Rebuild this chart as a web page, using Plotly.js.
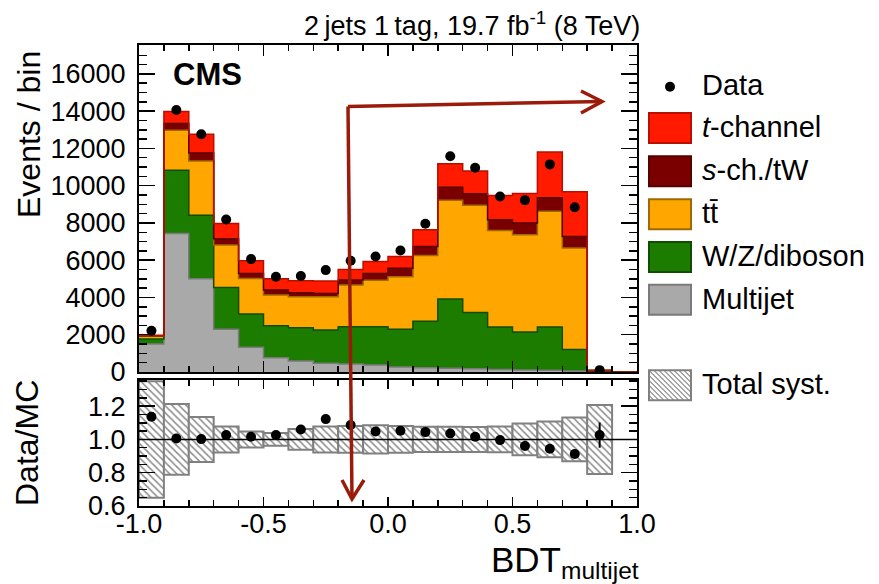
<!DOCTYPE html>
<html><head><meta charset="utf-8">
<script src="https://cdn.plot.ly/plotly-3.0.1.min.js"></script>
<style>html,body{margin:0;padding:0;background:#fff}#chart{width:879px;height:584px}</style>
</head><body><div id="chart"></div>
<script>
// ---- data ----
const binEdges = [-1.0,-0.9,-0.8,-0.7,-0.6,-0.5,-0.4,-0.3,-0.2,-0.1,0.0,0.1,0.2,0.3,0.4,0.5,0.6,0.7,0.8,0.9,1.0];
const multijet  = [1500,7436,5003,2288,1323,768,590,465,429,375,270,230,200,170,140,110,90,60,10,0];
const wzDiboson = [270,3395,3415,2252,1787,1715,1786,1787,2001,2055,2020,2494,3714,3020,2278,2035,2328,1152,20,0];
const ttbar     = [150,2145,2913,2270,1913,1646,1663,1787,2235,2500,2825,3528,5309,5760,5180,5223,6210,5437,45,0];
const sChTW     = [20,358,429,340,268,268,213,179,268,360,451,482,697,610,579,627,718,628,5,0];
const tChannel  = [30,644,1002,820,677,606,644,662,574,640,634,902,1260,1223,1293,1582,2467,2391,15,0];
const dataCounts = [2215,14066,12762,8187,6059,5111,5148,5469,5968,6200,6520,7957,11576,10966,9415,9223,11142,8842,100,null];
const ratio     = [1.136,1.006,1.002,1.026,1.016,1.026,1.06,1.122,1.086,1.048,1.052,1.044,1.036,1.016,0.996,0.96,0.944,0.912,1.026,null];
const ratioErr  = [0,0,0,0,0,0,0,0,0,0,0,0,0,0,0,0,0,0,0.076,0];
const systErr   = [0.35,0.213,0.135,0.078,0.048,0.038,0.062,0.078,0.08,0.085,0.08,0.076,0.076,0.075,0.077,0.095,0.107,0.131,0.207,null];
const xTickVals = [-1.0,-0.5,0.0,0.5,1.0];
const xTickText = ['-1.0','-0.5','0.0','0.5','1.0'];
const yTickVals = [0,2000,4000,6000,8000,10000,12000,14000,16000];
const yTickText = ['0','2000','4000','6000','8000','10000','12000','14000','16000'];
const rTickVals = [0.6,0.8,1.0,1.2];
const rTickText = ['0.6','0.8','1.0','1.2'];

// ---- geometry helpers ----
const L=139,R=637,T=45,B=506;
const px=x=>(x-L)/(R-L), py=y=>(B-y)/(B-T);
const FONT='Liberation Sans, Arial, Helvetica, sans-serif';
const centers = binEdges.slice(0,-1).map((e,i)=>(e+binEdges[i+1])/2);

const layers=[
  {name:'Multijet', v:multijet, fill:'#a9a9a9', line:'#7a7a7a'},
  {name:'W/Z/diboson', v:wzDiboson, fill:'#1b7c00', line:'#0f4d00'},
  {name:'tt', v:ttbar, fill:'#ffa700', line:'#a06800'},
  {name:'s-ch./tW', v:sChTW, fill:'#7a0000', line:'#560000'},
  {name:'t-channel', v:tChannel, fill:'#ff1a00', line:'#b80f00'}
];
const traces=[];
let cum=new Array(binEdges.length-1).fill(0);
layers.forEach((ly,k)=>{
  cum=cum.map((c,i)=>c+ly.v[i]);
  const ys=cum.concat([cum[cum.length-1]]);
  traces.push({type:'scatter',mode:'lines',x:binEdges,y:ys,xaxis:'x',yaxis:'y',
    line:{shape:'hv',color:ly.line,width:1.5},fill:k===0?'tozeroy':'tonexty',
    fillcolor:ly.fill,hoverinfo:'skip',showlegend:false});
});
traces.push({type:'scatter',mode:'markers',x:centers,y:dataCounts,xaxis:'x',yaxis:'y',
  marker:{size:10,color:'black'},showlegend:false});

// ratio panel
traces.push({type:'bar',x:centers,y:systErr.map(e=>e==null?null:2*e),base:systErr.map(e=>e==null?null:1-e),
  width:0.1,xaxis:'x2',yaxis:'y2',
  marker:{color:'white',line:{color:'#808080',width:2},
    pattern:{shape:'\\',fgcolor:'#8c8c8c',bgcolor:'white',size:5,solidity:0.3}},showlegend:false});
traces.push({type:'scatter',mode:'lines',x:[binEdges[0],binEdges[binEdges.length-1]],y:[1,1],xaxis:'x2',yaxis:'y2',
  line:{color:'black',width:1.5},showlegend:false,hoverinfo:'skip'});
traces.push({type:'scatter',mode:'markers',x:centers,y:ratio,xaxis:'x2',yaxis:'y2',
  marker:{size:10,color:'black'},
  error_y:{type:'data',array:ratioErr,visible:true,width:0,thickness:2,color:'black'},showlegend:false});

const ax={showline:true,linecolor:'black',linewidth:2,mirror:'allticks',ticks:'inside',tickcolor:'black',
  tickwidth:1.5,zeroline:false,showgrid:false,fixedrange:true,tickfont:{family:FONT,size:27,color:'black'}};
const minorTick=(d,len)=>({tickmode:'linear',tick0:0,dtick:d,ticklen:len,ticks:'inside',tickcolor:'black',tickwidth:1.5,showgrid:false});

const shapes=[];
const ann=[];
const A=(text,x,y,opt)=>ann.push(Object.assign({text,xref:'paper',yref:'paper',x:px(x),y:py(y),showarrow:false,
  xanchor:'left',yanchor:'middle',font:{family:FONT,size:29,color:'black'}},opt||{}));

// titles
A('2\u2009jets 1\u2009tag, 19.7 fb<sup>-1</sup> (8 TeV)',642,24,{xanchor:'right',font:{family:FONT,size:27,color:'black'}});
A('<b>CMS</b>',171,75,{font:{family:FONT,size:31,color:'black'}});
A('Events / bin',29,135,{xanchor:'center',textangle:-90,font:{family:FONT,size:32,color:'black'}});
A('Data/MC',27,443,{xanchor:'center',textangle:-90,font:{family:FONT,size:32,color:'black'}});
A('BDT<sub>multijet</sub>',641,562,{xanchor:'right',font:{family:FONT,size:35,color:'black'}});

// legend
const legX0=649,legX1=691,legTx=700;
shapes.push({type:'circle',xref:'paper',yref:'paper',x0:px(665),x1:px(675),y0:py(81.7),y1:py(91.7),fillcolor:'black',line:{width:0}});
A('Data',legTx,85);
const legRows=[
  {t:'<i>t</i>-channel',y:128,ly:layers[4]},
  {t:'<i>s</i>-ch./tW',y:171.3,ly:layers[3]},
  {t:'tt\u0304',y:214.3,ly:layers[2]},
  {t:'W/Z/diboson',y:257,ly:layers[1]},
  {t:'Multijet',y:299.7,ly:layers[0]}
];
legRows.forEach(r=>{
  shapes.push({type:'rect',xref:'paper',yref:'paper',x0:px(legX0),x1:px(legX1),y0:py(r.y+15),y1:py(r.y-15),
    fillcolor:r.ly.fill,line:{color:r.ly.line,width:2}});
  A(r.t,legTx,r.y-1);
});
// total syst legend box with hatch
const sy=385.3, by0=sy-15, by1=sy+15, bw=legX1-legX0, bh=by1-by0;
shapes.push({type:'rect',xref:'paper',yref:'paper',x0:px(legX0),x1:px(legX1),y0:py(by1),y1:py(by0),fillcolor:'white',line:{width:0}});
let hp='';
for(let c=-bh;c<bw;c+=5){
  const t0=Math.max(0,-c), t1=Math.min(bh,bw-c);
  if(t1<=t0) continue;
  hp+=`M${px(legX0+c+t0)},${py(by0+t0)} L${px(legX0+c+t1)},${py(by0+t1)} `;
}
shapes.push({type:'path',xref:'paper',yref:'paper',path:hp,line:{color:'#8c8c8c',width:1.2}});
shapes.push({type:'rect',xref:'paper',yref:'paper',x0:px(legX0),x1:px(legX1),y0:py(by1),y1:py(by0),line:{color:'#808080',width:2}});
A('Total syst.',legTx,sy-1);

// arrows
const AC='#9b1b0b';
const P=(pts)=>pts.map((p,i)=>(i?'L':'M')+px(p[0])+','+py(p[1])).join(' ');
shapes.push({type:'path',xref:'paper',yref:'paper',path:P([[348,106.5],[602,101.5]]),line:{color:AC,width:3.5}});
shapes.push({type:'path',xref:'paper',yref:'paper',path:P([[581,91],[602,101.5],[581,113]]),line:{color:AC,width:3.5}});
shapes.push({type:'path',xref:'paper',yref:'paper',path:P([[348,106.5],[352,499]]),line:{color:AC,width:3.5}});
shapes.push({type:'path',xref:'paper',yref:'paper',path:P([[342,480],[352,499],[364,480]]),line:{color:AC,width:3.5}});

const layout={width:879,height:584,margin:{l:L,r:879-R,t:T,b:584-B,pad:0},
  paper_bgcolor:'white',plot_bgcolor:'white',showlegend:false,bargap:0,barmode:'overlay',
  font:{family:FONT,size:27,color:'black'},
  xaxis:Object.assign({},ax,{domain:[0,1],anchor:'y',range:[-1,1],tickmode:'array',tickvals:xTickVals,showticklabels:false,
    ticklen:11,minor:minorTick(0.1,6)}),
  yaxis:Object.assign({},ax,{domain:[py(372),1],anchor:'x',range:[0,17550],tickmode:'array',tickvals:yTickVals,ticktext:yTickText,
    ticklen:16,ticklabelstandoff:6,minor:minorTick(500,8)}),
  xaxis2:Object.assign({},ax,{domain:[0,1],anchor:'y2',range:[-1,1],tickmode:'array',tickvals:xTickVals,ticktext:xTickText,
    ticklen:9,ticklabelstandoff:-7,minor:minorTick(0.1,6)}),
  yaxis2:Object.assign({},ax,{domain:[0,py(379.5)],anchor:'x2',range:[0.6,1.36],tickmode:'array',tickvals:rTickVals,ticktext:rTickText,
    ticklen:16,ticklabelstandoff:6,minor:minorTick(0.05,8)}),
  shapes:shapes,annotations:ann};
Plotly.newPlot('chart',traces,layout,{staticPlot:true,displayModeBar:false});
</script></body></html>
